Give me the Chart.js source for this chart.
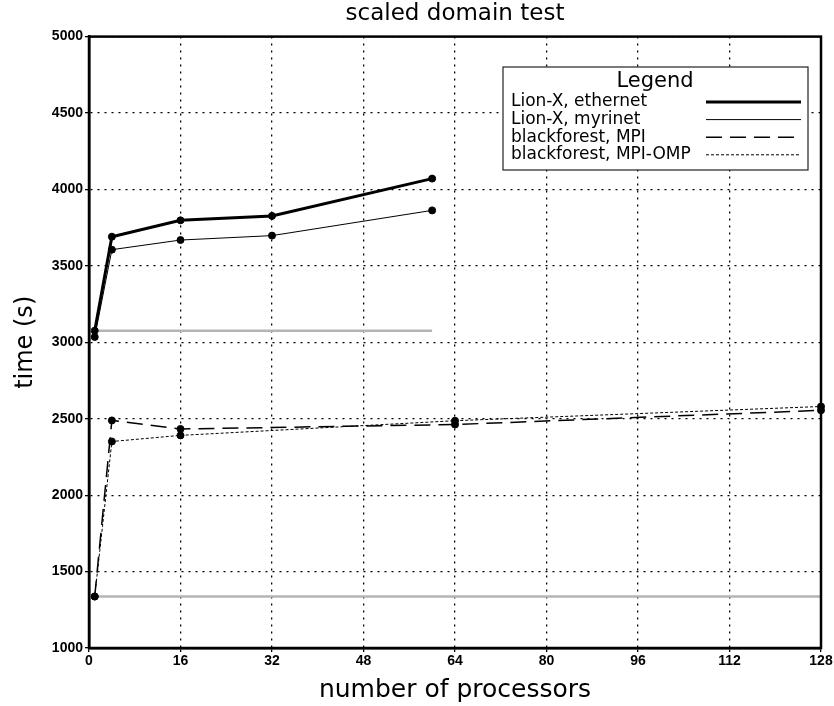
<!DOCTYPE html>
<html>
<head>
<meta charset="utf-8">
<script src="https://cdn.jsdelivr.net/npm/chart.js@4.4.1/dist/chart.umd.min.js"></script>
<style>
  body { margin: 0; background: #fff; }
  #wrap { width: 834px; height: 706px; }
</style>
</head>
<body>
<div id="wrap"><canvas id="scaling" width="834" height="706"></canvas></div>
<script>
// processor counts for each machine
const lionProcs = [1, 4, 16, 32, 60];
const forestProcs = [1, 4, 16, 64, 128];
// run times (s)
const lionEthernet = [3076, 3691, 3798, 3827, 4071];
const lionMyrinet = [3035, 3606, 3669, 3698, 3863];
const forestMPI = [1337, 2489, 2433, 2462, 2555];
const forestOMP = [1337, 2351, 2391, 2487, 2580];
// ideal (flat) scaling reference lines
const lionIdealX = [1, 60];
const lionIdealY = [3076, 3076];
const forestIdealX = [1, 128];
const forestIdealY = [1337, 1337];

const xTicks = [0, 16, 32, 48, 64, 80, 96, 112, 128];
const yTicks = [1000, 1500, 2000, 2500, 3000, 3500, 4000, 4500, 5000];

function pairs(xs, ys) {
  return xs.map((x, i) => ({ x: x, y: ys[i] }));
}

const labelFont = "'DejaVu Sans', sans-serif";
const tickFont = { family: "'Liberation Sans', sans-serif", size: 14, weight: "bold" };

// frame round the plot area
const framePlugin = {
  id: "frame",
  afterDatasetsDraw(chart) {
    const a = chart.chartArea;
    const ctx = chart.ctx;
    ctx.save();
    ctx.strokeStyle = "#000";
    ctx.lineWidth = 2.5;
    ctx.strokeRect(a.left, a.top, a.right - a.left, a.bottom - a.top);
    ctx.restore();
  }
};

// boxed legend inside the upper right of the plot
const boxLegend = {
  id: "boxLegend",
  afterDraw(chart) {
    const ctx = chart.ctx;
    const sets = chart.data.datasets.filter((d) => d.inLegend);
    const bx = 503, by = 67, bw = 305, bh = 103;
    ctx.save();
    ctx.fillStyle = "#fff";
    ctx.fillRect(bx, by, bw, bh);
    ctx.strokeStyle = "#222";
    ctx.lineWidth = 1.2;
    ctx.strokeRect(bx, by, bw, bh);
    ctx.fillStyle = "#000";
    ctx.textBaseline = "middle";
    ctx.textAlign = "center";
    ctx.font = "21px " + labelFont;
    ctx.fillText("Legend", 655, 82);
    ctx.textAlign = "left";
    ctx.font = "17px " + labelFont;
    sets.forEach((d, i) => {
      const y = 102 + i * 17.6;
      ctx.fillText(d.label, 511, y);
      ctx.beginPath();
      ctx.setLineDash(d.borderDash || []);
      ctx.lineWidth = d.borderWidth;
      ctx.strokeStyle = d.borderColor;
      ctx.moveTo(706, y);
      ctx.lineTo(801, y);
      ctx.stroke();
    });
    ctx.restore();
  }
};

const ctx = document.getElementById("scaling").getContext("2d");
new Chart(ctx, {
  type: "line",
  data: {
    datasets: [
      {
        label: "ideal Lion-X",
        data: pairs(lionIdealX, lionIdealY),
        borderColor: "#b4b4b4",
        borderWidth: 2.5,
        pointRadius: 0,
        order: 5
      },
      {
        label: "ideal blackforest",
        data: pairs(forestIdealX, forestIdealY),
        borderColor: "#b4b4b4",
        borderWidth: 2.5,
        pointRadius: 0,
        order: 5
      },
      {
        label: "Lion-X, ethernet",
        inLegend: true,
        data: pairs(lionProcs, lionEthernet),
        borderColor: "#000",
        backgroundColor: "#000",
        borderWidth: 3,
        pointBorderWidth: 1
      },
      {
        label: "Lion-X, myrinet",
        inLegend: true,
        data: pairs(lionProcs, lionMyrinet),
        borderColor: "#000",
        backgroundColor: "#000",
        borderWidth: 1,
        pointBorderWidth: 1
      },
      {
        label: "blackforest, MPI",
        inLegend: true,
        data: pairs(forestProcs, forestMPI),
        borderColor: "#000",
        backgroundColor: "#000",
        borderWidth: 1.5,
        borderDash: [16, 8],
        pointBorderWidth: 1
      },
      {
        label: "blackforest, MPI-OMP",
        inLegend: true,
        data: pairs(forestProcs, forestOMP),
        borderColor: "#000",
        backgroundColor: "#000",
        borderWidth: 1,
        borderDash: [3, 2],
        pointBorderWidth: 1
      }
    ]
  },
  options: {
    responsive: false,
    animation: false,
    devicePixelRatio: 1,
    clip: 6,
    elements: {
      point: { radius: 3.5, borderWidth: 1, borderColor: "#000", backgroundColor: "#000" }
    },
    layout: { padding: { left: 0, right: 13, top: 0, bottom: 0 } },
    plugins: {
      legend: { display: false },
      tooltip: { enabled: false },
      title: {
        display: true,
        fullSize: false,
        text: "scaled domain test",
        color: "#000",
        font: { family: labelFont, size: 23, weight: "normal" },
        padding: { top: 0, bottom: 9 }
      }
    },
    scales: {
      x: {
        type: "linear",
        min: 0,
        max: 128,
        afterFit: (scale) => { scale.height = 58; },
        afterBuildTicks: (scale) => { scale.ticks = xTicks.map((v) => ({ value: v })); },
        ticks: {
          color: "#000",
          padding: 1,
          maxRotation: 0,
          font: tickFont,
          callback: (v) => String(v)
        },
        grid: { color: "#000", lineWidth: 1.3, tickLength: 4, tickBorderDash: [] },
        border: { display: true, color: "#000", width: 2.5, dash: [2, 5] },
        title: {
          display: true,
          text: "number of processors",
          color: "#000",
          font: { family: labelFont, size: 25, weight: "normal" },
          padding: { top: 0, bottom: 1 }
        }
      },
      y: {
        min: 1000,
        max: 5000,
        afterFit: (scale) => { scale.width = 89; },
        afterBuildTicks: (scale) => { scale.ticks = yTicks.map((v) => ({ value: v })); },
        ticks: {
          color: "#000",
          padding: 2,
          font: tickFont,
          callback: (v) => String(v)
        },
        grid: { color: "#000", lineWidth: 1.3, tickLength: 4, tickBorderDash: [] },
        border: { display: true, color: "#000", width: 2.5, dash: [2, 5] },
        title: {
          display: true,
          text: "time (s)",
          color: "#000",
          font: { family: labelFont, size: 24, weight: "normal" },
          padding: { top: 11, bottom: 0 }
        }
      }
    }
  },
  plugins: [framePlugin, boxLegend]
});
</script>
</body>
</html>
